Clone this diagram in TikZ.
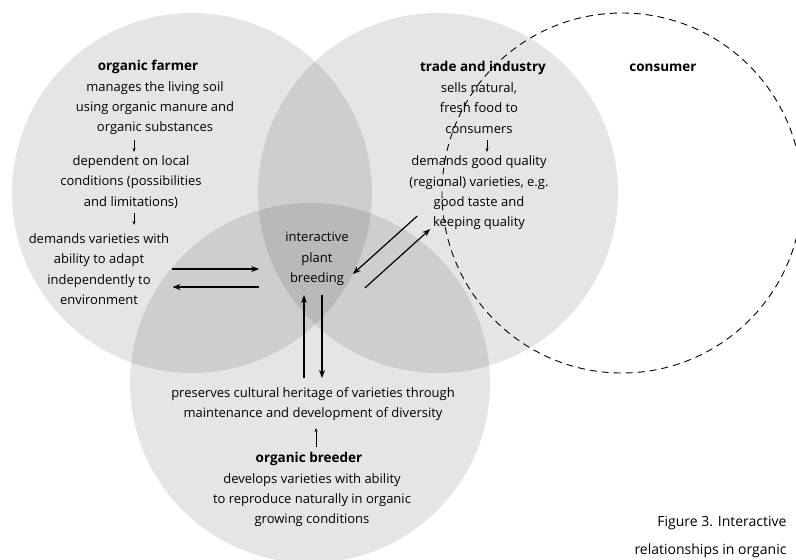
\documentclass[tikz,border=0pt]{standalone}
\usepackage{fontspec}
\setmainfont{Open Sans}
\usetikzlibrary{arrows.meta}

\begin{document}
\begin{tikzpicture}[
    x=1pt, y=-1pt,
    font=\fontsize{13}{20.3}\selectfont,
    set/.style={fill=black, fill opacity=0.1},
    txt/.style={align=center, inner sep=0pt},
    head/.style={inner sep=0pt, font=\fontsize{13.5}{20.3}\selectfont\bfseries},
    big/.style={-{Stealth[length=8pt,width=6pt]}, line width=1.2pt},
    small/.style={-{Stealth[length=4pt,width=3pt]}, line width=0.6pt},
]
    \useasboundingbox (0,0) rectangle (796,560);
    \clip (0,0) rectangle (796,560);
    % circles
    \fill[set] (192,193) circle[radius=180pt];
    \fill[set] (438,193) circle[radius=180pt];
    \fill[set] (310,383) circle[radius=180pt];
    \draw[line width=0.9pt, dash pattern=on 7pt off 5pt] (622,193) circle[radius=180pt];
    % organic farmer
    \node[head] (farmer) at (148,67) {organic farmer};
    \node[txt] (soil) at (155,108) {manages the living soil\\using organic manure and\\organic substances};
    \node[txt] (local) at (131,182) {dependent on local\\conditions (possibilities\\and limitations)};
    \node[txt] (adapt) at (99,269) {demands varieties with\\ability to adapt\\independently to\\environment};
    % trade and industry
    \node[head] (trade) at (483,68) {trade and industry};
    \node[txt] (sells) at (479,108) {sells natural,\\fresh food to\\consumers};
    \node[txt] (quality) at (479,193) {demands good quality\\(regional) varieties, e.g.\\good taste and\\keeping quality};
    % consumer
    \node[head] (consumer) at (663,68) {consumer};
    % organic breeder
    \node[txt] (heritage) at (313,404) {preserves cultural heritage of varieties through\\maintenance and development of diversity};
    \node[head] (breeder) at (309,459) {organic breeder};
    \node[txt] (develops) at (312,500) {develops varieties with ability\\to reproduce naturally in organic\\growing conditions};
    % centre
    \node[txt] (ipb) at (317,259) {interactive\\plant\\breeding};
    % small arrows
    \draw[small] ([shift={(-21,32)}]soil.center) -- ([shift={(3,-30)}]local.center);
    \draw[small] ([shift={(3,31)}]local.center) -- ([shift={(35,-44)}]adapt.center);
    \draw[small] ([shift={(8,32)}]sells.center) -- ([shift={(8,-41)}]quality.center);
    \draw[small] ([shift={(7,-12)}]breeder.center) -- ([shift={(3,24)}]heritage.center);
    % arrows to and from the centre
    \draw[big] ([shift={(3,0)}]adapt.east) -- ([shift={(-26,10)}]ipb.west);
    \draw[big] ([shift={(-26,28)}]ipb.west) -- ([shift={(3,18)}]adapt.east);
    \draw[big] ([shift={(8,23)}]quality.west) -- ([shift={(4,15)}]ipb.east);
    \draw[big] ([shift={(16,29)}]ipb.east) -- ([shift={(21,36)}]quality.west);
    \draw[big] ([shift={(-9,-26)}]heritage.center) -- ([shift={(-13,36)}]ipb.center);
    \draw[big] ([shift={(5,36)}]ipb.center) -- ([shift={(9,-26)}]heritage.center);
    % caption
    \node[anchor=base east, font=\fontsize{14}{20}\selectfont] (cap1) at (790,526) {Figure 3. Interactive};
    \node[anchor=base east, font=\fontsize{14}{20}\selectfont] (cap2) at (790,554) {relationships in organic};
\end{tikzpicture}
\end{document}
